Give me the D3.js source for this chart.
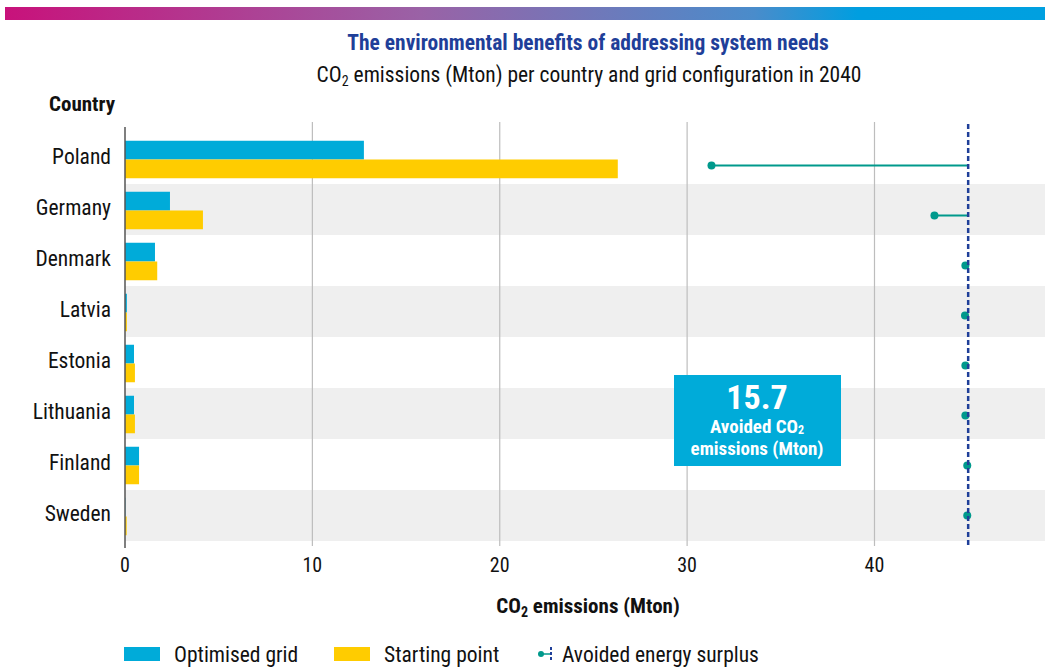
<!DOCTYPE html>
<html>
<head>
<meta charset="utf-8">
<script src="https://cdn.jsdelivr.net/npm/d3@7"></script>
<style>
  body { margin: 0; background: #fff; }
  svg text { font-family: "Roboto Condensed", "Liberation Sans Narrow", Roboto, sans-serif; }
</style>
</head>
<body>
<div id="chart"></div>
<script>
// chart values
var countries = ["Poland", "Germany", "Denmark", "Latvia", "Estonia", "Lithuania", "Finland", "Sweden"];
var optimised = [12.75, 2.4, 1.6, 0.1, 0.48, 0.48, 0.75, 0.02];
var starting = [26.3, 4.16, 1.72, 0.1, 0.53, 0.53, 0.75, 0.09];
// avoided surplus drawn back from the reference line
var avoidedSurplus = [13.7, 1.8, 0.15, 0.17, 0.15, 0.15, 0.05, 0.05];
var surplusRef = 45;
var xTicks = [0, 10, 20, 30, 40];
var totalAvoided = "15.7";

function drawChart() {
  var w = 1045, h = 668;
  var blue = "#00abd9", yellow = "#ffcc00", teal = "#00998c", navy = "#1f3f99";

  var svg = d3.select("#chart").append("svg")
    .attr("width", w).attr("height", h);

  // gradient strip at top
  var grad = svg.append("defs").append("linearGradient").attr("id", "topbar");
  grad.append("stop").attr("offset", "0%").attr("stop-color", "#c8127b");
  grad.append("stop").attr("offset", "40%").attr("stop-color", "#9a62a6");
  grad.append("stop").attr("offset", "72%").attr("stop-color", "#4a8ccb");
  grad.append("stop").attr("offset", "82%").attr("stop-color", "#009ee0");
  grad.append("stop").attr("offset", "100%").attr("stop-color", "#00a0e0");
  svg.append("rect").attr("x", 5).attr("y", 7).attr("width", w - 5).attr("height", 13)
    .attr("fill", "url(#topbar)");

  svg.append("text").attr("x", 588).attr("y", 50).attr("text-anchor", "middle")
    .attr("font-size", 21.5).attr("font-weight", "bold").attr("fill", navy)
    .text("The environmental benefits of addressing system needs");
  var sub = svg.append("text").attr("x", 589).attr("y", 82).attr("text-anchor", "middle")
    .attr("font-size", 21.5).attr("fill", "#111");
  sub.append("tspan").text("CO");
  sub.append("tspan").attr("font-size", 14).attr("dy", 4).text("2");
  sub.append("tspan").attr("dy", -4).text(" emissions (Mton) per country and grid configuration in 2040");

  svg.append("text").attr("x", 115).attr("y", 111).attr("text-anchor", "end")
    .attr("font-size", 21).attr("font-weight", "bold").attr("fill", "#111").text("Country");

  var x = d3.scaleLinear().domain([0, 49.1]).range([125, w]);
  var y = d3.scaleBand().domain(countries).range([133, 541]);
  var inner = d3.scaleBand().domain(["opt", "start"]).range([0, y.bandwidth()]).paddingOuter(0.36);

  // alternating row shading
  svg.selectAll("rect.row").data(countries.filter(function (d, i) { return i % 2 === 1; }))
    .enter().append("rect").attr("class", "row")
    .attr("x", x(0)).attr("y", function (d) { return y(d); })
    .attr("width", w - x(0)).attr("height", y.bandwidth())
    .attr("fill", "#efefef");

  // vertical gridlines
  svg.selectAll("line.grid").data(xTicks.slice(1)).enter().append("line")
    .attr("class", "grid")
    .attr("x1", function (d) { return x(d); }).attr("x2", function (d) { return x(d); })
    .attr("y1", 122).attr("y2", 546)
    .attr("stroke", "#bdbdbd").attr("stroke-width", 1.2);

  // bars
  svg.selectAll("rect.opt").data(optimised).enter().append("rect").attr("class", "opt")
    .attr("x", x(0)).attr("y", function (d, i) { return y(countries[i]) + inner("opt") + 1; })
    .attr("width", function (d) { return x(d) - x(0); })
    .attr("height", inner.bandwidth()).attr("fill", blue);
  svg.selectAll("rect.start").data(starting).enter().append("rect").attr("class", "start")
    .attr("x", x(0)).attr("y", function (d, i) { return y(countries[i]) + inner("start") + 1; })
    .attr("width", function (d) { return x(d) - x(0); })
    .attr("height", inner.bandwidth()).attr("fill", yellow);

  // y axis line
  svg.append("line").attr("x1", x(0)).attr("x2", x(0)).attr("y1", 127).attr("y2", 548)
    .attr("stroke", "#555").attr("stroke-width", 1.5);

  // country labels
  svg.selectAll("text.country").data(countries).enter().append("text").attr("class", "country")
    .attr("x", 111).attr("y", function (d) { return y(d) + y.bandwidth() / 2 + 5; })
    .attr("text-anchor", "end").attr("font-size", 21.5).attr("fill", "#111")
    .text(function (d) { return d; });

  // tick labels
  svg.selectAll("text.tick").data(xTicks).enter().append("text").attr("class", "tick")
    .attr("x", function (d) { return x(d); }).attr("y", 572)
    .attr("text-anchor", "middle").attr("font-size", 20).attr("fill", "#111")
    .text(function (d) { return d; });

  var xt = svg.append("text").attr("x", 588).attr("y", 613).attr("text-anchor", "middle")
    .attr("font-size", 21).attr("font-weight", "bold").attr("fill", "#111");
  xt.append("tspan").text("CO");
  xt.append("tspan").attr("font-size", 14).attr("dy", 4).text("2");
  xt.append("tspan").attr("dy", -4).text(" emissions (Mton)");

  // avoided surplus lollipops
  function ly(i) { return y(countries[i]) + y.bandwidth() / 2 + 7 - i; }
  svg.selectAll("line.lolli").data(avoidedSurplus).enter().append("line").attr("class", "lolli")
    .attr("x1", function (d) { return x(surplusRef - d); }).attr("x2", x(surplusRef))
    .attr("y1", function (d, i) { return ly(i); })
    .attr("y2", function (d, i) { return ly(i); })
    .attr("stroke", teal).attr("stroke-width", 2);
  svg.selectAll("circle.lolli").data(avoidedSurplus).enter().append("circle").attr("class", "lolli")
    .attr("cx", function (d) { return x(surplusRef - d); })
    .attr("cy", function (d, i) { return ly(i); })
    .attr("r", 4).attr("fill", teal);

  svg.append("line").attr("x1", x(surplusRef)).attr("x2", x(surplusRef))
    .attr("y1", 124).attr("y2", 546)
    .attr("stroke", navy).attr("stroke-width", 2.5).attr("stroke-dasharray", "5,3");

  // total avoided annotation
  svg.append("rect").attr("x", 674).attr("y", 375).attr("width", 167).attr("height", 91)
    .attr("fill", blue);
  svg.append("text").attr("x", 757).attr("y", 409).attr("text-anchor", "middle")
    .attr("font-size", 34).attr("font-weight", "bold").attr("fill", "#fff").text(totalAvoided);
  var a1 = svg.append("text").attr("x", 757).attr("y", 433).attr("text-anchor", "middle")
    .attr("font-size", 19).attr("font-weight", "bold").attr("fill", "#fff");
  a1.append("tspan").text("Avoided CO");
  a1.append("tspan").attr("font-size", 12).attr("dy", 1).text("2");
  svg.append("text").attr("x", 757).attr("y", 455).attr("text-anchor", "middle")
    .attr("font-size", 19).attr("font-weight", "bold").attr("fill", "#fff").text("emissions (Mton)");

  // legend
  var lg = svg.append("g");
  lg.append("rect").attr("x", 124).attr("y", 647).attr("width", 36).attr("height", 14).attr("fill", blue);
  lg.append("text").attr("x", 174).attr("y", 662).attr("font-size", 21.5).attr("fill", "#111").text("Optimised grid");
  lg.append("rect").attr("x", 334).attr("y", 647).attr("width", 36).attr("height", 14).attr("fill", yellow);
  lg.append("text").attr("x", 384).attr("y", 662).attr("font-size", 21.5).attr("fill", "#111").text("Starting point");
  lg.append("line").attr("x1", 541).attr("x2", 550).attr("y1", 654).attr("y2", 654)
    .attr("stroke", teal).attr("stroke-width", 1.5);
  lg.append("circle").attr("cx", 541).attr("cy", 654).attr("r", 3).attr("fill", teal);
  lg.append("line").attr("x1", 551).attr("x2", 551).attr("y1", 647).attr("y2", 662)
    .attr("stroke", navy).attr("stroke-width", 2).attr("stroke-dasharray", "3,2");
  lg.append("text").attr("x", 562).attr("y", 662).attr("font-size", 21.5).attr("fill", "#111").text("Avoided energy surplus");
}
window.onload = drawChart;
</script>
</body>
</html>
